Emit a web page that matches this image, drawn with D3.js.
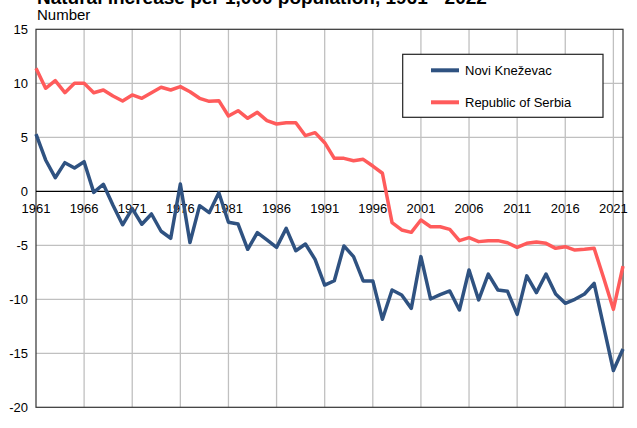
<!DOCTYPE html>
<html>
<head>
<meta charset="utf-8">
<script src="https://cdn.jsdelivr.net/npm/d3@7"></script>
<style>
  body { margin: 0; background: #fff; }
  text { font-family: "Liberation Sans", Arial, sans-serif; }
</style>
</head>
<body>
<script>
var years = d3.range(1961, 2023);

var noviKnezevac = [5.3, 2.9, 1.26, 2.65, 2.16, 2.74, -0.1, 0.65, -1.3, -3.1,
  -1.6, -3.05, -2.1, -3.7, -4.35, 0.68, -4.75, -1.33, -1.98, -0.13,
  -2.87, -3.03, -5.37, -3.83, -4.5, -5.19, -3.43, -5.5, -4.88, -6.3,
  -8.68, -8.28, -5.06, -6.05, -8.3, -8.3, -11.85, -9.14, -9.6, -10.84,
  -6.05, -9.97, -9.57, -9.23, -10.99, -7.29, -10.06, -7.66, -9.14, -9.26,
  -11.39, -7.83, -9.38, -7.66, -9.51, -10.37, -10.0, -9.51, -8.52, -12.56,
  -16.6, -14.6];

var serbia = [11.39, 9.54, 10.24, 9.13, 10.0, 10.0, 9.13, 9.38, 8.82, 8.36,
  8.92, 8.61, 9.13, 9.63, 9.38, 9.69, 9.22, 8.61, 8.33, 8.39,
  6.97, 7.46, 6.76, 7.31, 6.54, 6.23, 6.35, 6.35, 5.15, 5.43,
  4.5, 3.05, 3.05, 2.83, 2.96, 2.34, 1.67, -2.9, -3.58, -3.8,
  -2.66, -3.28, -3.28, -3.52, -4.57, -4.29, -4.66, -4.57, -4.57, -4.76,
  -5.19, -4.82, -4.69, -4.82, -5.28, -5.13, -5.44, -5.37, -5.28, -8.05,
  -10.93, -6.92];

var yTicks = [15, 10, 5, 0, -5, -10, -15, -20];
var xTicks = d3.range(1961, 2023, 5);

var seriesNames = ["Novi Kneževac", "Republic of Serbia"];
var seriesColors = ["#2f5281", "#ff5b5b"];

var width = 637,
    height = 428;

var plotLeft = 36, plotRight = 623, plotTop = 29.3, plotBottom = 407.3;

var svg = d3.select("body").append("svg")
    .attr("width", width)
    .attr("height", height);

var x = d3.scaleLinear().domain([1961, 2022]).range([plotLeft, plotRight]);
var y = d3.scaleLinear().domain([-20, 15]).range([plotBottom, plotTop]);

svg.append("text")
    .attr("x", 37).attr("y", 3.5)
    .style("font-size", "19px").style("font-weight", "bold")
    .text("Natural increase per 1,000 population, 1961 - 2022");

svg.append("text")
    .attr("x", 37).attr("y", 20)
    .style("font-size", "15px")
    .text("Number");

// grid
svg.append("g").selectAll("line")
    .data(yTicks.filter(d => d !== 0 && d !== 15 && d !== -20))
  .enter().append("line")
    .attr("x1", plotLeft).attr("x2", plotRight)
    .attr("y1", d => y(d)).attr("y2", d => y(d))
    .attr("stroke", "#c0c0c0").attr("stroke-width", 1.3);

svg.append("g").selectAll("line")
    .data(xTicks.filter(d => d !== 1961))
  .enter().append("line")
    .attr("x1", d => x(d)).attr("x2", d => x(d))
    .attr("y1", plotTop).attr("y2", plotBottom)
    .attr("stroke", "#c0c0c0").attr("stroke-width", 1.3);

// frame
svg.append("rect")
    .attr("x", plotLeft).attr("y", plotTop)
    .attr("width", plotRight - plotLeft).attr("height", plotBottom - plotTop)
    .attr("fill", "none").attr("stroke", "#333").attr("stroke-width", 1.2);

svg.append("line")
    .attr("x1", plotLeft).attr("x2", plotRight)
    .attr("y1", y(0)).attr("y2", y(0))
    .attr("stroke", "#000").attr("stroke-width", 1.2);

// y labels
svg.append("g").selectAll("text")
    .data(yTicks)
  .enter().append("text")
    .attr("x", 28).attr("y", d => y(d) + 5)
    .attr("text-anchor", "end")
    .style("font-size", "13px")
    .text(d => d);

// x labels
svg.append("g").selectAll("text")
    .data(xTicks)
  .enter().append("text")
    .attr("x", d => x(d)).attr("y", y(0) + 22)
    .attr("text-anchor", "middle")
    .style("font-size", "13px")
    .text(d => d);

var line = d3.line()
    .x((d, i) => x(years[i]))
    .y(d => y(d));

[noviKnezevac, serbia].forEach(function(s, i) {
  svg.append("path")
      .datum(s)
      .attr("d", line)
      .attr("fill", "none")
      .attr("stroke", seriesColors[i])
      .attr("stroke-width", 3.5)
      .attr("stroke-linejoin", "round");
});

// legend
var lg = svg.append("g");
lg.append("rect")
    .attr("x", 402.7).attr("y", 54.3)
    .attr("width", 200.3).attr("height", 63)
    .attr("fill", "#fff").attr("stroke", "#222").attr("stroke-width", 1.2);

seriesNames.forEach(function(name, i) {
  var ly = 70.3 + i * 32;
  lg.append("line")
      .attr("x1", 431).attr("x2", 459)
      .attr("y1", ly).attr("y2", ly)
      .attr("stroke", seriesColors[i]).attr("stroke-width", 4);
  lg.append("text")
      .attr("x", 465).attr("y", ly + 5)
      .style("font-size", "13px")
      .text(name);
});
</script>
</body>
</html>
